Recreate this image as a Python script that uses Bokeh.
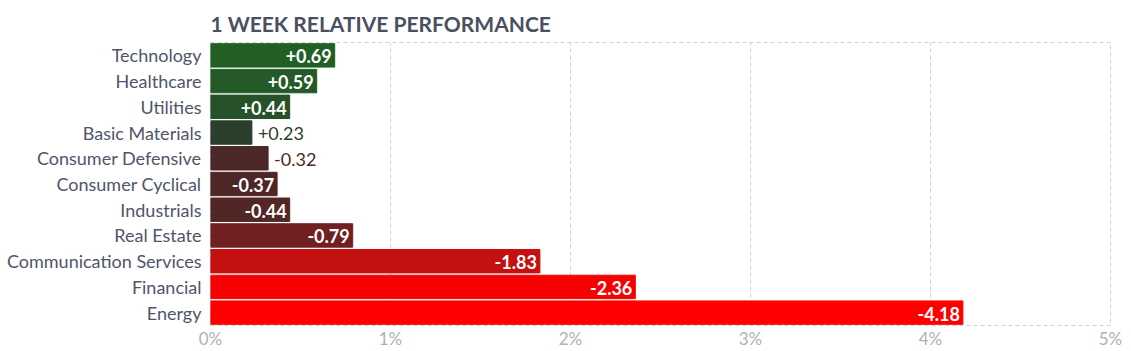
from bokeh.plotting import figure
from bokeh.models import ColumnDataSource, FixedTicker, PrintfTickFormatter, Range1d, FactorRange
from bokeh.core.properties import value
from bokeh.embed import file_html
from bokeh.resources import INLINE

title_text = "1 WEEK RELATIVE PERFORMANCE"
categories = ["Technology", "Healthcare", "Utilities", "Basic Materials", "Consumer Defensive",
              "Consumer Cyclical", "Industrials", "Real Estate", "Communication Services",
              "Financial", "Energy"]
values = [0.69, 0.59, 0.44, 0.23, -0.32, -0.37, -0.44, -0.79, -1.83, -2.36, -4.18]
colors = ["#225f25", "#245a27", "#275229", "#2c3f2c", "#4c2727", "#4e2626", "#532626",
          "#702021", "#c41010", "#f50101", "#ff0000"]
tick_values = [0, 1, 2, 3, 4, 5]

lengths = [abs(v) for v in values]
labels = [("+%.2f" % v) if v > 0 else ("%.2f" % v) for v in values]
inside = [l >= 0.35 for l in lengths]

src = ColumnDataSource(dict(cat=categories, length=lengths, color=colors))
src_in = ColumnDataSource(dict(
    cat=[c for c, i in zip(categories, inside) if i],
    x=[l for l, i in zip(lengths, inside) if i],
    label=[t for t, i in zip(labels, inside) if i]))
src_out = ColumnDataSource(dict(
    cat=[c for c, i in zip(categories, inside) if not i],
    x=[l for l, i in zip(lengths, inside) if not i],
    label=[t for t, i in zip(labels, inside) if not i],
    color=[c for c, i in zip(colors, inside) if not i]))

p = figure(width=1131, height=351, output_backend="svg", toolbar_location=None,
           y_range=FactorRange(*list(reversed(categories)), range_padding=0),
           x_range=Range1d(0, 5),
           min_border_left=210, min_border_right=21, min_border_top=42, min_border_bottom=0)

p.hbar(y="cat", right="length", left=0, height=0.91, color="color", source=src)

p.text(x="x", y="cat", text="label", source=src_in, text_align="right", text_baseline="middle",
       x_offset=-3, y_offset=1, text_color="white", text_font=value("Lato"),
       text_font_style="bold", text_font_size="18px")
p.text(x="x", y="cat", text="label", source=src_out, text_align="left", text_baseline="middle",
       x_offset=6, y_offset=1, text_color="color", text_font=value("Lato"),
       text_font_size="18px")

p.title.text = title_text
p.title.text_font = "Lato"
p.title.text_font_size = "21px"
p.title.text_font_style = "bold"
p.title.text_color = "#4a5060"
p.title.align = "left"
p.title.offset = 0
p.title.standoff = 13

p.xaxis.ticker = FixedTicker(ticks=tick_values)
p.xaxis.formatter = PrintfTickFormatter(format="%d%%")
p.xaxis.axis_line_color = None
p.xaxis.major_tick_line_color = None
p.xaxis.minor_tick_line_color = None
p.xaxis.major_tick_out = 0
p.xaxis.major_tick_in = 0
p.xaxis.minor_tick_out = 0
p.xaxis.major_label_text_font = "Lato"
p.xaxis.major_label_text_font_size = "17px"
p.xaxis.major_label_text_color = "#b0b0b8"
p.xaxis.major_label_standoff = 2

p.yaxis.axis_line_color = None
p.yaxis.major_tick_line_color = None
p.yaxis.minor_tick_line_color = None
p.yaxis.major_tick_out = 0
p.yaxis.major_tick_in = 0
p.yaxis.minor_tick_out = 0
p.yaxis.major_label_text_font = "Lato"
p.yaxis.major_label_text_font_size = "18px"
p.yaxis.major_label_text_color = "#50556a"
p.yaxis.major_label_standoff = 9

p.ygrid.grid_line_color = None
p.xgrid.grid_line_color = "#cfcfd8"
p.xgrid.grid_line_dash = "4 3"
p.outline_line_color = "#cfcfd8"
p.outline_line_dash = "4 3"
p.background_fill_color = "white"
p.border_fill_color = "white"

open("out.html", "w").write(file_html(p, INLINE))
